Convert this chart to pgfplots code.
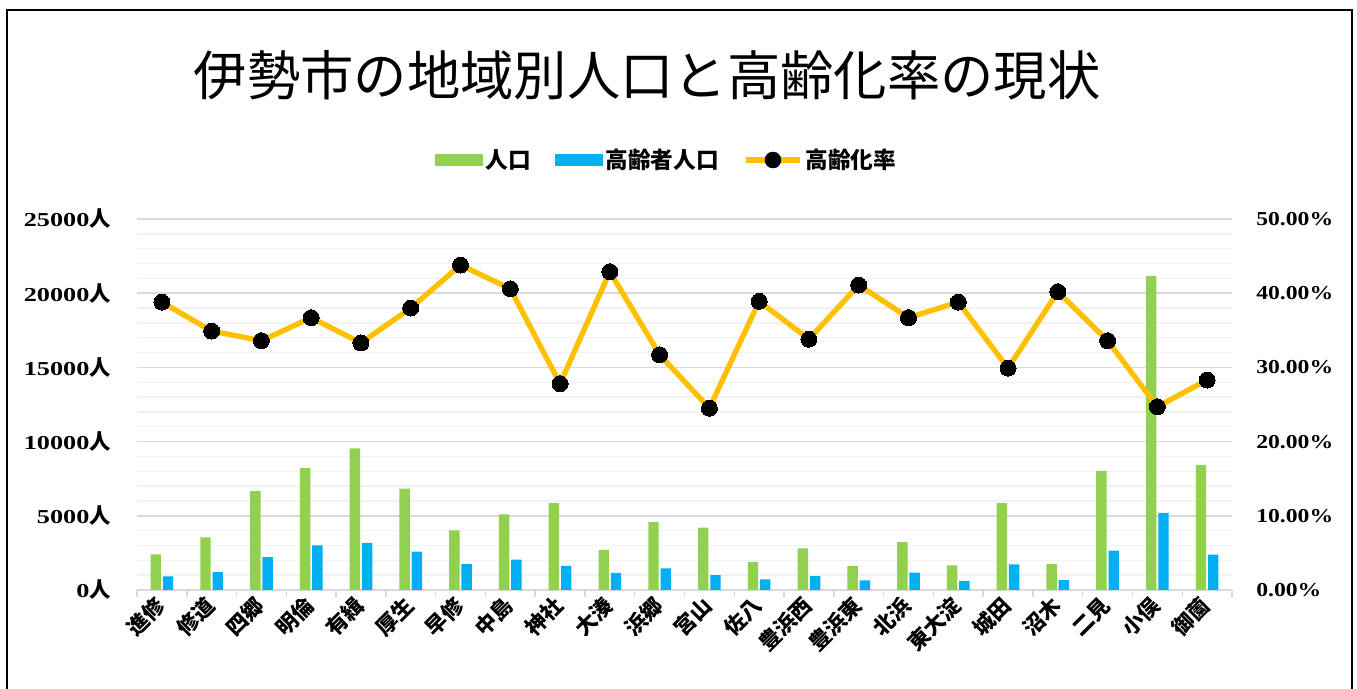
\documentclass[border=0pt]{standalone}
\usepackage{pgfplots}
\pgfplotsset{compat=1.18}
\usepackage{pgfplotstable}
\usepackage{fontspec}
\newfontfamily\cjk{Noto Sans CJK JP}
\newfontfamily\numf[FakeStretch=1.2]{Liberation Serif}
\newfontfamily\numfL[FakeStretch=1.33]{Liberation Serif}
\definecolor{cgreen}{HTML}{92D050}
\definecolor{cblue}{HTML}{00B0F0}
\definecolor{cgold}{HTML}{FFC000}
\definecolor{gmaj}{HTML}{D9D9D9}
\definecolor{gmin}{HTML}{F2F2F2}
\newcommand\yl[1]{{\numfL\bfseries\fontsize{14.8}{16}\selectfont #1}{\cjk\bfseries\fontsize{16}{18}\selectfont 人}}
\newcommand\pl[1]{{\numf\bfseries\fontsize{14.8}{16}\selectfont #1}}
\pgfplotstableread{
x pop old rate
0 2400 920 38.8
1 3550 1210 34.9
2 6670 2220 33.6
3 8220 3010 36.7
4 9550 3170 33.3
5 6830 2580 38.0
6 4020 1750 43.8
7 5100 2040 40.6
8 5860 1620 27.8
9 2700 1150 42.9
10 4580 1460 31.7
11 4200 1010 24.5
12 1890 720 38.9
13 2810 940 33.8
14 1620 650 41.1
15 3230 1170 36.7
16 1660 610 38.8
17 5860 1730 29.9
18 1750 670 40.2
19 8020 2650 33.6
20 21160 5190 24.7
21 8420 2380 28.3
}\data
\begin{document}
\begin{tikzpicture}[x=1pt,y=1pt]
\useasboundingbox (0,0) rectangle (1017.75,516.75);
\draw[line width=1.2pt] (5.25,-2) -- (5.25,509.25) -- (1014,509.25) -- (1014,-2);
\node[font=\cjk\fontsize{40}{46}\selectfont] at (485.25,460.5) {伊勢市の地域別人口と高齢化率の現状};
\begin{axis}[
  at={(102.75pt,74.25pt)}, anchor=south west,
  scale only axis, width=821.25pt, height=278.25pt,
  xmin=-0.5, xmax=21.5, ymin=0, ymax=25000,
  scaled y ticks=false,
  axis x line*=bottom, axis y line*=left,
  x axis line style={gmaj, line width=1.1pt},
  y axis line style={draw=none},
  xtick={0,...,21},
  xticklabels={進修,修道,四郷,明倫,有緝,厚生,早修,中島,神社,大湊,浜郷,宮山,佐八,豊浜西,豊浜東,北浜,東大淀,城田,沼木,二見,小俣,御薗},
  minor xtick={-0.5,0.5,...,21.5},
  major tick length=0pt, minor tick length=5.25pt,
  tick align=outside,
  minor tick style={gmaj, line width=1.1pt},
  ytick={0,5000,...,25000},
  minor ytick={1000,2000,3000,4000,6000,7000,8000,9000,11000,12000,13000,14000,16000,17000,18000,19000,21000,22000,23000,24000},
  ytick style={draw=none},
  yticklabels={\yl{0},\yl{5000},\yl{10000},\yl{15000},\yl{20000},\yl{25000}},
  yticklabel style={anchor=east, inner sep=0pt, xshift=-19.5pt},
  xticklabel style={font=\cjk\bfseries\fontsize{16}{18}\selectfont, xshift=0pt, yshift=-8pt, rotate=45, anchor=east, inner sep=1pt},
  ymajorgrids, yminorgrids,
  major grid style={gmaj, line width=1.1pt},
  minor grid style={gmin, line width=1.1pt},
  legend columns=3,
  legend style={at={(0.484,1.159)}, anchor=center, draw=none, fill=none,
    font=\cjk\bfseries\fontsize{17}{20}\selectfont,
    /tikz/every even column/.append style={column sep=16pt},
    nodes={inner sep=2pt}},
]
\addplot[ybar, bar width=7.8pt, bar shift=-4.6pt, fill=cgreen, draw=none,
  legend image code/.code={\fill[cgreen] (0pt,-4.5pt) rectangle (36pt,4.5pt);}]
  table[x=x,y=pop]{\data};
\addlegendentry{人口}
\addplot[ybar, bar width=7.8pt, bar shift=4.6pt, fill=cblue, draw=none,
  legend image code/.code={\fill[cblue] (0pt,-4.5pt) rectangle (36pt,4.5pt);}]
  table[x=x,y=old]{\data};
\addlegendentry{高齢者人口}
\addlegendimage{legend image code/.code={\draw[cgold, line width=4pt] (0pt,0pt) -- (41pt,0pt); \fill[black] (20.5pt,0pt) circle (6pt);}}
\addlegendentry{高齢化率}
\end{axis}
\begin{axis}[
  at={(102.75pt,74.25pt)}, anchor=south west,
  scale only axis, width=821.25pt, height=278.25pt,
  xmin=-0.5, xmax=21.5, ymin=0, ymax=50,
  axis x line=none, axis y line*=right,
  y axis line style={draw=none},
  ytick={0,10,...,50},
  ytick style={draw=none},
  major tick length=0pt,
  yticklabels={\pl{0.00\%},\pl{10.00\%},\pl{20.00\%},\pl{30.00\%},\pl{40.00\%},\pl{50.00\%}},
  yticklabel style={anchor=west, inner sep=0pt, xshift=18pt},
  clip=false,
]
\addplot[cgold, line width=4pt, mark=*, mark size=6pt, mark options={fill=black, draw=black, line width=0pt}]
  table[x=x,y=rate]{\data};
\end{axis}
\end{tikzpicture}
\end{document}
